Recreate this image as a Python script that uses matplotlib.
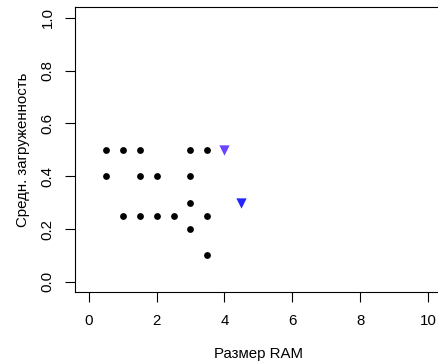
import matplotlib
matplotlib.use("Agg")
import matplotlib.pyplot as plt

# black points
ram_black = [0.5, 1.0, 1.5, 3.0, 3.5,
             0.5, 1.5, 2.0, 3.0,
             3.0,
             1.0, 1.5, 2.0, 2.5, 3.5,
             3.0,
             3.5]
load_black = [0.5, 0.5, 0.5, 0.5, 0.5,
              0.4, 0.4, 0.4, 0.4,
              0.3,
              0.25, 0.25, 0.25, 0.25, 0.25,
              0.2,
              0.1]
# highlighted triangles
ram_tri = [4.0, 4.5]
load_tri = [0.5, 0.3]
tri_colors = ["#6a44ff", "#2424ff"]

xticks = [0, 2, 4, 6, 8, 10]
yticks = [0.0, 0.2, 0.4, 0.6, 0.8, 1.0]

plt.rcParams['font.family'] = ['Liberation Sans', 'DejaVu Sans']

fig = plt.figure(figsize=(4.38, 3.64), dpi=100)
ax = fig.add_axes([0.1712, 0.1967, 0.8377, 0.7835])

ax.scatter(ram_black, load_black, s=24, color="black", linewidths=0, zorder=3)
for x, y, c in zip(ram_tri, load_tri, tri_colors):
    ax.scatter([x], [y], s=55, marker="v", color=c, linewidths=0, zorder=3)

ax.set_xlim(-0.4, 10.4)
ax.set_ylim(-0.04, 1.04)
ax.set_xticks(xticks)
ax.set_xticklabels([str(t) for t in xticks])
ax.set_yticks(yticks)
ax.set_yticklabels([f"{t:.1f}" for t in yticks], rotation=90, va="center")

for s in ax.spines.values():
    s.set_color("black")
    s.set_linewidth(0.8)

ax.tick_params(axis="both", direction="out", length=7, width=0.8,
               labelsize=10.8, colors="black")
ax.tick_params(axis="x", pad=8.5)
ax.tick_params(axis="y", pad=7.5)

ax.set_xlabel("Размер RAM", fontsize=10.8, labelpad=14)
ax.set_ylabel("Средн. загруженность", fontsize=10.8, labelpad=8)

fig.savefig("out.png", dpi=100)
